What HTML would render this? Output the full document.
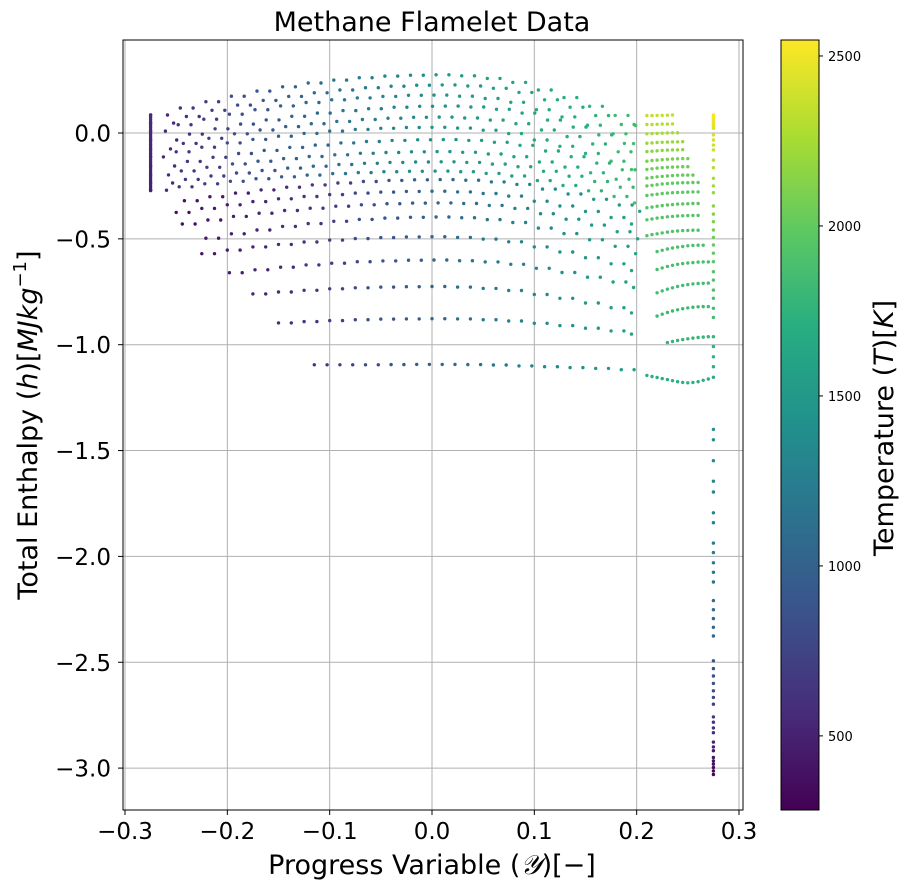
<!DOCTYPE html>
<html><head><meta charset="utf-8"><style>
body{margin:0;background:#fff;}
svg text{font-family:"DejaVu Sans","Liberation Sans",sans-serif;}
</style></head><body>
<svg id="chart" width="911" height="891" xmlns="http://www.w3.org/2000/svg">
<defs><linearGradient id="vir" x1="0" y1="1" x2="0" y2="0">
<stop offset="0" stop-color="#440154"/><stop offset="0.125" stop-color="#472c7a"/><stop offset="0.25" stop-color="#3b518b"/><stop offset="0.375" stop-color="#2c718e"/><stop offset="0.5" stop-color="#21908d"/><stop offset="0.625" stop-color="#27ad81"/><stop offset="0.75" stop-color="#5cc863"/><stop offset="0.875" stop-color="#aadc32"/><stop offset="1" stop-color="#fde725"/>
</linearGradient></defs>
<g id="grid"></g>
<g id="pts"></g>
<rect x="123" y="40" width="620" height="770" fill="none" stroke="#000" stroke-width="1"/>
<g id="axes"></g>
<text x="432" y="31" font-size="27" text-anchor="middle">Methane Flamelet Data</text>
<text x="432" y="874" font-size="27" text-anchor="middle">Progress Variable (<tspan font-style="italic" font-family="Liberation Serif,serif">𝒴</tspan>)[−]</text>
<text transform="translate(37,425) rotate(-90)" font-size="27" text-anchor="middle">Total Enthalpy (<tspan font-style="italic">h</tspan>)[<tspan font-style="italic">MJkg</tspan><tspan font-size="18" dy="-11">−1</tspan><tspan dy="11">]</tspan></text>
<rect x="781" y="40" width="38" height="770" fill="url(#vir)" stroke="#000" stroke-width="1"/>
<g id="cbar"></g>
<text transform="translate(893,428) rotate(-90)" font-size="27" text-anchor="middle">Temperature (<tspan font-style="italic">T</tspan>)[<tspan font-style="italic">K</tspan>]</text>
</svg>
<script>
const xTicks=[-0.3,-0.2,-0.1,0,0.1,0.2,0.3];
const yTicks=[0,-0.5,-1,-1.5,-2,-2.5,-3];
const cTicks=[500,1000,1500,2000,2500];
const tMin=282, tMax=2547;
const xGrid=[-0.275,-0.25,-0.225,-0.2,-0.175,-0.15,-0.125,-0.1,-0.075,-0.05,-0.025,0,0.025,0.05,0.075,0.1,0.125,0.15,0.175,0.195];
const tUpper=[560,640,720,820,900,980,1060,1150,1230,1310,1380,1450,1500,1550,1600,1650,1700,1750,1820,1880];
const tLower=[380,400,430,470,520,580,650,720,800,880,960,1040,1120,1200,1280,1350,1420,1490,1560,1620];
const shiftUpper=[0.004,0.010,0.002,0.013,0.007,0.0,0.011,0.005,0.009,0.003];
const shiftLower=[0.008,0.0,0.006,0.004,0.0,0.002,0.0,0.0,0.01];
const dupStep=[0,0.0125];
const _=null;
const rowsUpper=[
[.085,.118,.148,.174,.198,.218,.236,.25,.261,.269,.273,.275,.27,.258,.239,.203,.167,.126,.083,.035],
[.047,.078,.107,.132,.154,.173,.19,.203,.214,.221,.226,.227,.222,.211,.192,.157,.122,.082,.04,-.007],
[.009,.039,.065,.089,.11,.128,.144,.157,.166,.173,.178,.179,.174,.163,.145,.11,.076,.037,-.004,-.05],
[-.033,-.005,.02,.042,.062,.079,.094,.106,.115,.122,.126,.127,.123,.112,.094,.061,.028,-.009,-.049,-.093],
[-.075,-.049,-.025,-.004,.014,.03,.044,.055,.064,.07,.074,.075,.071,.061,.044,.014,-.017,-.052,-.089,-.13],
[-.113,-.089,-.067,-.047,-.03,-.015,-.002,.009,.017,.022,.026,.027,.023,.013,-.003,-.033,-.063,-.097,-.133,-.173],
[-.156,-.134,-.115,-.097,-.082,-.068,-.057,-.047,-.04,-.035,-.032,-.031,-.035,-.044,-.058,-.085,-.112,-.142,-.174,-.21],
[-.198,-.179,-.162,-.146,-.133,-.121,-.111,-.103,-.096,-.092,-.089,-.088,-.091,-.099,-.112,-.137,-.161,-.188,-.218,-.25],
[-.236,-.219,-.203,-.189,-.177,-.166,-.157,-.149,-.143,-.139,-.137,-.136,-.139,-.147,-.159,-.181,-.204,-.229,-.256,-.286],
[-.27,-.254,-.24,-.228,-.216,-.207,-.199,-.192,-.187,-.183,-.181,-.18,-.183,-.191,-.203,-.225,-.248,-.273,-.3,-.33]
];
const rowsLower=[
[_,-.32,-.301,-.284,-.269,-.256,-.245,-.236,-.229,-.224,-.221,-.22,-.223,-.231,-.243,-.265,-.288,-.313,-.34,-.37],
[_,-.375,-.356,-.339,-.324,-.311,-.3,-.291,-.284,-.279,-.276,-.275,-.278,-.286,-.298,-.322,-.345,-.371,-.399,-.43],
[_,-.43,-.411,-.394,-.379,-.366,-.355,-.346,-.339,-.334,-.331,-.33,-.333,-.342,-.356,-.381,-.407,-.435,-.466,-.5],
[_,_,-.497,-.476,-.458,-.441,-.428,-.417,-.408,-.402,-.398,-.397,-.4,-.409,-.423,-.449,-.475,-.504,-.535,-.57],
[_,_,-.57,-.553,-.538,-.526,-.515,-.506,-.499,-.494,-.491,-.49,-.493,-.501,-.514,-.538,-.562,-.589,-.618,-.65],
[_,_,_,-.66,-.646,-.634,-.623,-.615,-.608,-.604,-.601,-.6,-.603,-.609,-.62,-.639,-.659,-.681,-.704,-.73],
[_,_,_,_,-.76,-.751,-.743,-.736,-.731,-.728,-.726,-.725,-.728,-.734,-.744,-.763,-.781,-.803,-.825,-.85],
[_,_,_,_,_,-.897,-.891,-.886,-.882,-.879,-.878,-.877,-.878,-.882,-.888,-.899,-.91,-.922,-.935,-.95],
[_,_,_,_,_,_,-1.095,-1.095,-1.095,-1.094,-1.093,-1.093,-1.094,-1.096,-1.1,-1.104,-1.108,-1.112,-1.118,-1.13]
];
const xBranch=[0.21,0.215,0.22,0.225,0.23,0.235,0.24,0.245,0.25,0.255,0.26,0.265,0.27];
const branchH=[
[.082,.082,.083,.083,.084,.085,_,_,_,_,_,_,_],
[.04,.04,.041,.042,.042,.043,_,_,_,_,_,_,_],
[-.004,-.003,-.002,-.001,0,.001,.001,_,_,_,_,_,_],
[-.048,-.047,-.045,-.044,-.043,-.042,-.042,-.041,_,_,_,_,_],
[-.088,-.086,-.084,-.082,-.081,-.08,-.08,-.079,_,_,_,_,_],
[-.133,-.13,-.128,-.126,-.124,-.123,-.122,-.121,-.121,_,_,_,_],
[-.172,-.169,-.166,-.164,-.162,-.161,-.16,-.159,-.159,_,_,_,_],
[-.213,-.21,-.207,-.205,-.203,-.201,-.2,-.199,-.199,-.199,_,_,_],
[-.25,-.247,-.244,-.241,-.239,-.237,-.236,-.235,-.235,-.234,-.234,_,_],
[-.295,-.292,-.289,-.286,-.284,-.282,-.281,-.28,-.279,-.278,-.278,_,_],
[-.353,-.35,-.346,-.343,-.34,-.338,-.336,-.335,-.334,-.333,-.333,_,_],
[-.41,-.406,-.402,-.399,-.396,-.394,-.392,-.391,-.39,-.389,-.389,_,_],
[-.485,-.48,-.476,-.472,-.468,-.465,-.463,-.461,-.46,-.459,-.459,_,_],
[_,_,-.56,-.554,-.548,-.543,-.539,-.536,-.533,-.531,-.53,-.53,_],
[_,_,-.645,-.637,-.63,-.625,-.62,-.617,-.614,-.612,-.61,-.609,-.609],
[_,_,-.755,-.746,-.738,-.731,-.725,-.72,-.716,-.713,-.711,-.71,-.709],
[_,_,-.865,-.856,-.848,-.841,-.835,-.83,-.826,-.823,-.821,-.82,-.82],
[_,_,_,_,-.99,-.985,-.98,-.976,-.972,-.969,-.966,-.964,-.962],
[-1.145,-1.15,-1.155,-1.16,-1.165,-1.17,-1.175,-1.178,-1.18,-1.178,-1.175,-1.168,-1.162]
];
const branchT=[2350,2300,2250,2200,2150,2100,2050,2020,2000,1980,1960,1940,1920,1900,1880,1850,1820,1780,1720];
const edgeH=[.085,.075,.065,.055,.045,.035,.025,.015,.005,-.005,-.015,-.025,-.035,-.045,-.055,-.065,-.075,-.085,-.095,-.105,-.115,-.125,-.135,-.145,-.155,-.165,-.175,-.185,-.195,-.205,-.215,-.225,-.235,-.245,-.255,-.265,-.272];
const edgeT=[560,558,556,554,552,550,548,546,544,542,540,538,536,534,532,530,528,526,524,522,520,518,516,514,512,510,508,506,504,502,500,498,496,494,492,490,488];
const vX=0.275;
const vH=[.085,.078,.071,.064,.057,.05,.043,.036,.029,.022,-.009,-.033,-.057,-.08,-.128,-.164,-.214,-.25,-.282,-.345,-.383,-.419,-.458,-.493,-.529,-.568,-.608,-.655,-.695,-.742,-.781,-.828,-.871,-.962,-1.009,-1.057,-1.104,-1.154,-1.4,-1.449,-1.548,-1.645,-1.696,-1.794,-1.841,-1.937,-1.982,-2.03,-2.075,-2.121,-2.209,-2.252,-2.294,-2.335,-2.376,-2.493,-2.53,-2.565,-2.6,-2.635,-2.666,-2.698,-2.758,-2.783,-2.81,-2.833,-2.877,-2.9,-2.918,-2.95,-2.966,-2.981,-2.997,-3.013,-3.03];
const vT=[2540,2530,2520,2510,2500,2490,2480,2470,2460,2450,2420,2400,2380,2360,2320,2290,2250,2220,2200,2150,2120,2100,2070,2050,2030,2000,1980,1950,1930,1900,1880,1850,1830,1780,1760,1740,1720,1700,1420,1400,1370,1340,1320,1300,1280,1240,1220,1190,1170,1150,1100,1080,1060,1040,1020,860,840,820,800,770,750,720,660,630,600,570,520,490,460,420,400,380,360,340,320];

const X=v=>432+v*1023.3;
const Y=h=>133-h*211.7;
const C=t=>810-(t-tMin)/(tMax-tMin)*770;
const stops=["#440154","#472c7a","#3b518b","#2c718e","#21908d","#27ad81","#5cc863","#aadc32","#fde725"].map(s=>[parseInt(s.slice(1,3),16),parseInt(s.slice(3,5),16),parseInt(s.slice(5,7),16)]);
function vir(t){let f=Math.max(0,Math.min(1,(t-tMin)/(tMax-tMin)))*8;let i=Math.min(7,Math.floor(f));let r=f-i;const a=stops[i],b=stops[i+1];return `rgb(${a.map((v,k)=>Math.round(v+(b[k]-v)*r)).join(',')})`;}
const NS="http://www.w3.org/2000/svg";
function mk(tag,attrs,parent){const e=document.createElementNS(NS,tag);for(const k in attrs)e.setAttribute(k,attrs[k]);parent.appendChild(e);return e;}
const grid=document.getElementById('grid'),axes=document.getElementById('axes'),pts=document.getElementById('pts'),cbar=document.getElementById('cbar');
xTicks.forEach(v=>{
  const l=mk('line',{x1:X(v),x2:X(v),y1:40,y2:810,stroke:'#b0b0b0','stroke-width':1},grid);
  
  
  const t=mk('line',{x1:X(v),x2:X(v),y1:810,y2:815,stroke:'#000'},axes);
  
  
  const tx=mk('text',{x:X(v),y:839,'font-size':23,'text-anchor':'middle'},axes);
  tx.textContent=(v<0?'−':'')+Math.abs(v).toFixed(1);
  
  
});
yTicks.forEach(v=>{
  const l=mk('line',{x1:123,x2:743,y1:Y(v),y2:Y(v),stroke:'#b0b0b0','stroke-width':1},grid);
  
  
  const t=mk('line',{x1:118,x2:123,y1:Y(v),y2:Y(v),stroke:'#000'},axes);
  
  
  const tx=mk('text',{x:111,y:Y(v)+8.5,'font-size':23,'text-anchor':'end'},axes);
  tx.textContent=(v<0?'−':'')+Math.abs(v).toFixed(1);
  
  
});
cTicks.forEach(v=>{
  const t=mk('line',{x1:819,x2:823,y1:C(v),y2:C(v),stroke:'#000'},cbar);
  
  
  const tx=mk('text',{x:828,y:C(v)+5,'font-size':13},cbar);
  tx.textContent=v;
  
  
});
function dot(x,h,t){
  const c=mk('circle',{cx:X(x).toFixed(1),cy:Y(h).toFixed(1),r:1.7,fill:vir(t)},pts);
  
  
}
rowsUpper.forEach((r,j)=>r.forEach((h,i)=>{if(h===null)return;dupStep.forEach(d=>{const x=xGrid[i]+shiftUpper[j]+d;if(i===0||x<0.2)dot(i===0&&d===0?xGrid[0]:x,h,tUpper[i]);});}));
rowsLower.forEach((r,j)=>r.forEach((h,i)=>{if(h===null)return;dupStep.forEach(d=>{const x=xGrid[i]+shiftLower[j]+d;if(x<0.205)dot(x,h,tLower[i]);});}));
branchH.forEach((r,j)=>r.forEach((h,i)=>{if(h!==null)dot(xBranch[i],h,branchT[j]);}));
edgeH.forEach((h,i)=>dot(xGrid[0],h,edgeT[i]));
vH.forEach((h,i)=>dot(vX,h,vT[i]));
</script>
</body></html>
